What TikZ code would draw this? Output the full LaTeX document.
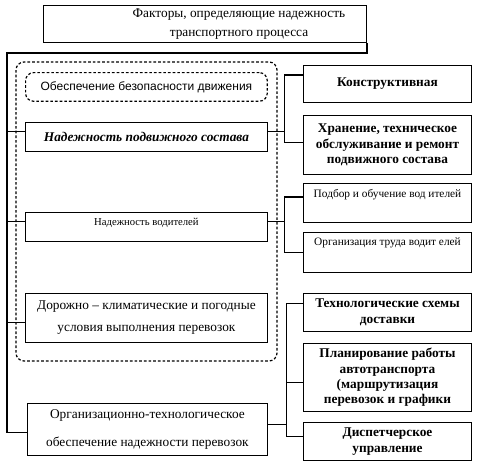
\documentclass[tikz,border=0pt]{standalone}
\usepackage{fontspec}
\setmainfont{Liberation Serif}
\setsansfont{Liberation Sans}
\usetikzlibrary{positioning}

\begin{document}
\begin{tikzpicture}[
    x=0.75pt, y=-0.75pt,
    box/.style={rectangle, draw, line width=1pt, inner sep=2pt, align=center, font=\fontsize{10}{12}\selectfont},
    leftbox/.style={box, minimum width=181.25pt},
    rightbox/.style={box, minimum width=125.75pt, font=\fontsize{10}{11.5}\selectfont\bfseries},
    smallbox/.style={box, minimum width=125.75pt, font=\fontsize{8.5}{10}\selectfont},
    dashbox/.style={draw, dash pattern=on 2pt off 1.5pt, rounded corners=6pt, line width=0.9pt},
    link/.style={line width=0.8pt}
]
    \useasboundingbox (0,0) rectangle (478,464);

    % dashed group round the left column
    \draw[dashbox] (16,62) rectangle (277,361);

    \node (title) [box, anchor=north west, minimum width=242pt, minimum height=27.5pt, font=\fontsize{10}{14}\selectfont] at (43,5) {\hspace*{51pt}Факторы, определяющие надежность\\\hspace*{51pt}транспортного процесса};

    % left column
    \node (safety) [leftbox, dashbox, anchor=north west, minimum height=21.5pt, font=\sffamily\fontsize{9}{11}\selectfont] at (25,72) {Обеспечение безопасности движения};
    \node (rolling) [leftbox, minimum height=21.5pt, below=15pt of safety, font=\fontsize{10}{12}\selectfont\bfseries\itshape] {Надежность подвижного состава};
    \node (drivers) [leftbox, minimum height=21.5pt, below=45pt of rolling, font=\fontsize{8}{9}\selectfont, text depth=8pt] {Надежность водителей};
    \node (road) [leftbox, minimum height=36.5pt, below=38.25pt of drivers, font=\fontsize{10}{16.5}\selectfont] {Дорожно – климатические и погодные\\условия выполнения перевозок};
    \node (orgtech) [leftbox, minimum width=179.75pt, minimum height=38.75pt, below=45pt of road, xshift=0.75pt, font=\fontsize{10}{21}\selectfont] {Организационно-технологическое\\обеспечение надежности перевозок};

    % right column
    \node (constr) [rightbox, anchor=north west, minimum height=27.5pt] at (303,65) {Конструктивная};
    \node (storage) [rightbox, minimum height=44pt, below=9pt of constr] {Хранение, техническое\\обслуживание и ремонт\\подвижного состава};
    \node (select) [smallbox, minimum height=29pt, below=6pt of storage, text depth=14pt] {Подбор и обучение вод ителей};
    \node (labor) [smallbox, minimum height=29.75pt, below=6.75pt of select, text depth=16pt] {Организация труда водит елей};
    \node (techsch) [rightbox, minimum height=28.25pt, below=15pt of labor, font=\fontsize{10}{12}\selectfont\bfseries] {Технологические схемы\\доставки};
    \node (plan) [rightbox, minimum height=50.75pt, below=8.25pt of techsch] {Планирование работы\\автотранспорта\\(маршрутизация\\перевозок и графики};
    \node (disp) [rightbox, minimum height=28.25pt, below=7.5pt of plan] {Диспетчерское\\управление};

    % left spine
    \coordinate (lspine) at (7,53);
    \draw[link] (title.south east) |- (lspine) |- ([yshift=-2.5pt]orgtech.west);
    \draw[link] ([yshift=3.75pt]rolling.west) -- ([yshift=3.75pt]rolling.west -| lspine);
    \draw[link] ([yshift=4pt]drivers.west) -- ([yshift=4pt]drivers.west -| lspine);
    \draw[link] ([yshift=-3.75pt]road.west) -- ([yshift=-3.75pt]road.west -| lspine);

    % right spines
    \path ([yshift=3.75pt]rolling.east) ++(17,0) coordinate (rj1);
    \draw[link] ([yshift=3.75pt]rolling.east) -- (rj1);
    \draw[link] ([yshift=6.75pt]constr.west) -| (rj1) |- ([yshift=2pt]storage.west);

    \path ([yshift=4pt]drivers.east) ++(17,0) coordinate (rj2);
    \draw[link] ([yshift=4pt]drivers.east) -- (rj2);
    \draw[link] ([yshift=4.5pt]select.west) -| (rj2) |- (labor.west);

    \path ([yshift=3.4pt]orgtech.east) ++(19,0) coordinate (rj3);
    \draw[link] ([yshift=3.4pt]orgtech.east) -- (rj3);
    \draw[link] ([yshift=7pt]techsch.west) -| (rj3) |- ([yshift=3.75pt]disp.west);
    \draw[link] ([yshift=-3.4pt]plan.west) -| (rj3);
\end{tikzpicture}
\end{document}
